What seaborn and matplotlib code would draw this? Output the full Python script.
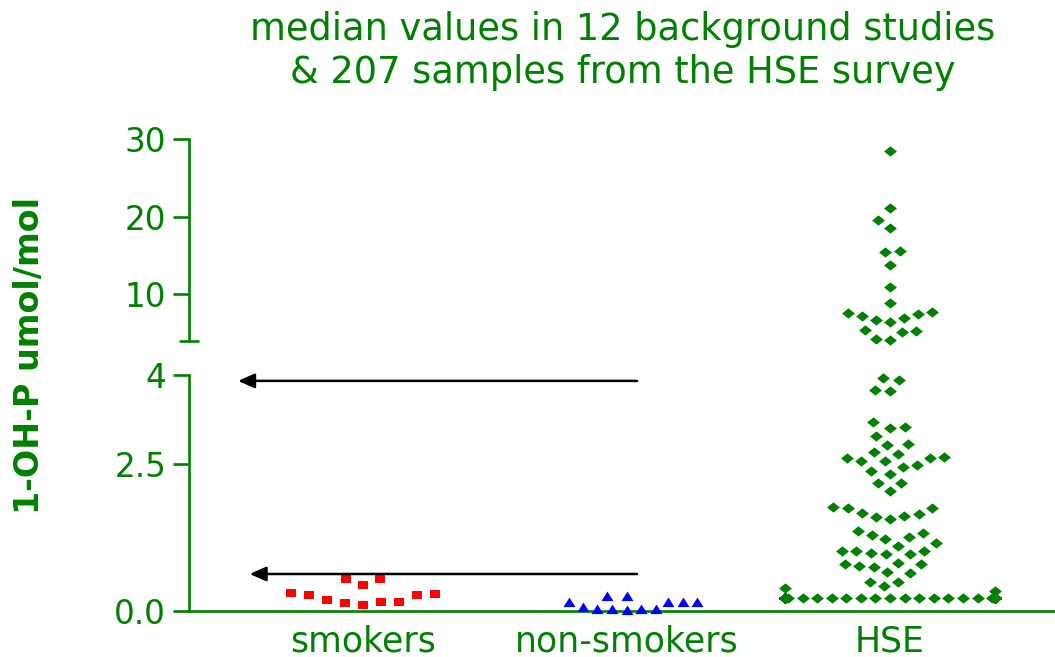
import warnings
warnings.filterwarnings("ignore")
import numpy as np
import pandas as pd
import matplotlib
matplotlib.use("Agg")
import matplotlib.pyplot as plt
from matplotlib.path import Path
import seaborn as sns

# ---------------- data ----------------
categories = ["smokers", "non-smokers", "HSE"]
smokers = [0.54, 0.54, 0.44, 0.31, 0.29, 0.27, 0.27, 0.19, 0.16, 0.16, 0.13, 0.11]
non_smokers = [0.24, 0.24, 0.14, 0.14, 0.14, 0.14, 0.05, 0.02, 0.02, 0.02, 0.02, 0.00]
hse_upper = [28.4, 21.1, 19.5, 18.5, 15.5, 15.4, 13.7, 10.9, 8.9, 7.7, 7.6, 7.4,
             7.2, 6.9, 6.6, 6.4, 5.4, 5.2, 5.1, 4.2, 4.05]
hse_lower = [3.95, 3.92, 3.75, 3.74, 3.20, 3.13, 3.10, 2.97, 2.83, 2.82,
             2.70, 2.66, 2.61, 2.59, 2.59, 2.55, 2.55, 2.47, 2.44, 2.37, 2.33,
             2.18, 2.17, 2.03,
             1.76, 1.75, 1.74, 1.67, 1.65, 1.61, 1.60, 1.56,
             1.36, 1.32, 1.29, 1.26, 1.22, 1.15, 1.10,
             1.02, 1.02, 1.02, 0.98, 0.96, 0.96,
             0.82, 0.79, 0.79, 0.76, 0.75,
             0.66, 0.64,
             0.50, 0.50, 0.43, 0.39, 0.34]
hse_lod_value = 0.215
hse_lod_count = 207 - len(hse_upper) - len(hse_lower)
hse_lod = [hse_lod_value] * hse_lod_count

lower_ticks = [0, 2.5, 4]
lower_ticklabels = ["0.0", "2.5", "4"]
upper_ticks = [10, 20, 30]
upper_ticklabels = ["10", "20", "30"]

arrow_values = [3.905, 0.628]
arrow_tail_x = [1.04, 1.04]
arrow_tip_x = [-0.474, -0.43]

title = "median values in 12 background studies\n& 207 samples from the HSE survey"
ylabel = "1-OH-P umol/mol"

# ---------------- style ----------------
GREEN = "#008000"
sns.set_theme(style="ticks")
plt.rcParams["font.family"] = ["DejaVu Sans"]

W, H = 1055, 657
fig = plt.figure(figsize=(W / 100, H / 100), dpi=100)

x_left, y_zero, y_four, y_brk, y_top = 189, 611, 375.3, 340.5, 139
ax_lo = fig.add_axes([x_left / W, (H - y_zero) / H, (W - x_left) / W, (y_zero - y_four) / H])
ax_hi = fig.add_axes([x_left / W, (H - y_brk) / H, (W - x_left) / W, (y_brk - y_top) / H])
for a in (ax_lo, ax_hi):
    a.set_facecolor("none")


def padded_marker(shape, pad):
    verts = [(-pad, 0.0), (pad, 0.0)] + shape + [shape[0]]
    codes = [Path.MOVETO, Path.MOVETO, Path.MOVETO] + [Path.LINETO] * (len(shape) - 1) + [Path.CLOSEPOLY]
    return Path(verts, codes)


sq_marker = padded_marker([(-1, -0.8), (1, -0.8), (1, 0.8), (-1, 0.8)], 1.85)
tri_marker = padded_marker([(-1, -0.6), (1, -0.6), (0, 1.0)], 1.16)
dia_marker = padded_marker([(-1, 0), (0, 0.8), (1, 0), (0, -0.8)], 1.08)

groups_lo = [
    ("smokers", smokers, sq_marker, "#FF0000", 12.6),
    ("non-smokers", non_smokers, tri_marker, "#0000FF", 10.0),
    ("HSE", hse_lod + hse_lower, dia_marker, GREEN, 10.0),
]
for cat, vals, mk, col, sz in groups_lo:
    sns.swarmplot(x=[cat] * len(vals), y=vals, order=categories, marker=mk,
                  color=col, size=sz, linewidth=0, clip_on=False, ax=ax_lo)

sns.swarmplot(x=["HSE"] * len(hse_upper), y=hse_upper, order=categories,
              marker=dia_marker, color=GREEN, size=10.0, linewidth=0,
              clip_on=False, ax=ax_hi)

# ---------------- axes ----------------
xlim = (-0.6603, 2.626)
for a in (ax_lo, ax_hi):
    a.set_xlim(*xlim)
    a.set_xlabel("")
    a.set_ylabel("")
    a.spines["top"].set_visible(False)
    a.spines["right"].set_visible(False)
    a.spines["left"].set_color(GREEN)
    a.spines["left"].set_linewidth(1.9)
    a.tick_params(axis="y", which="major", direction="out", length=11.5, width=1.9,
                  color=GREEN, labelcolor=GREEN, labelsize=23.5, pad=5, left=True)

ax_lo.set_ylim(0, 4)
ax_lo.set_yticks(lower_ticks)
ax_lo.set_yticklabels(lower_ticklabels)
ax_lo.set_yticks([4], minor=True)
ax_lo.tick_params(axis="y", which="minor", direction="in", length=7.2, width=1.9,
                  color=GREEN, left=True)
ax_lo.spines["bottom"].set_color(GREEN)
ax_lo.spines["bottom"].set_linewidth(1.9)
ax_lo.set_xticks(range(len(categories)))
ax_lo.set_xticklabels(categories)
ax_lo.tick_params(axis="x", length=0, pad=10, labelsize=25, labelcolor=GREEN)

ax_hi.set_ylim(4, 30)
ax_hi.set_yticks(upper_ticks)
ax_hi.set_yticklabels(upper_ticklabels)
ax_hi.set_yticks([4], minor=True)
ax_hi.tick_params(axis="y", which="minor", direction="inout", length=14.4, width=1.9,
                  color=GREEN, left=True)
ax_hi.spines["bottom"].set_visible(False)
ax_hi.tick_params(axis="x", bottom=False, labelbottom=False)

for v, tx, hx in zip(arrow_values, arrow_tail_x, arrow_tip_x):
    ax_lo.annotate("", xy=(hx, v), xytext=(tx, v), annotation_clip=False,
                   arrowprops=dict(arrowstyle="-|>,head_length=0.45,head_width=0.2",
                                   color="black", lw=1.8, mutation_scale=22,
                                   shrinkA=0, shrinkB=0))

fig.text(0.5905, 1 - 51 / H, title, ha="center", va="center", fontsize=26.5,
         color=GREEN, linespacing=1.2)
fig.text(30 / W, 1 - 355 / H, ylabel, rotation=90, ha="center", va="center",
         fontsize=24, fontweight="bold", color=GREEN)

fig.savefig("out.png", dpi=100)
